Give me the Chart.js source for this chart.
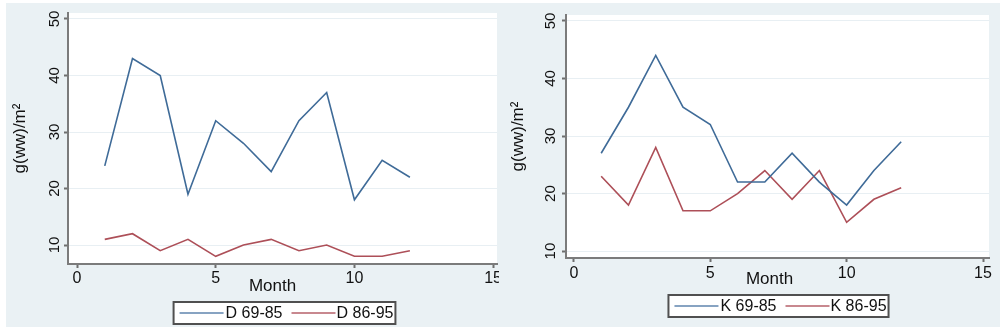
<!DOCTYPE html>
<html>
<head>
<meta charset="utf-8">
<script src="https://cdn.jsdelivr.net/npm/chart.js@4/dist/chart.umd.min.js"></script>
<style>
    body { margin: 0; background: #fff; width: 1000px; height: 329px; position: relative; overflow: hidden; }
    .panel { position: absolute; top: 3px; height: 324px; background: #eaf1f4; overflow: hidden; }
    #leftPanel { left: 6px; width: 493px; }
    #rightPanel { left: 499px; width: 501px; }
    canvas { position: absolute; top: 0; left: 0; }
</style>
</head>
<body>
<div class="panel" id="leftPanel"><canvas id="chartD" width="520" height="324"></canvas></div>
<div class="panel" id="rightPanel"><canvas id="chartK" width="501" height="324"></canvas></div>
<script>
// values
const months = [1, 2, 3, 4, 5, 6, 7, 8, 9, 10, 11, 12];
const d6985 = [24, 43, 40, 19, 32, 28, 23, 32, 37, 18, 25, 22];
const d8695 = [11, 12, 9, 11, 8, 10, 11, 9, 10, 8, 8, 9];
const k6985 = [27, 35, 44, 35, 32, 22, 22, 27, 22, 18, 24, 29];
const k8695 = [23, 18, 28, 17, 17, 20, 24, 19, 24, 15, 19, 21];
const dLabels = ['D 69-85', 'D 86-95'];
const kLabels = ['K 69-85', 'K 86-95'];
const xTickValues = [0, 5, 10, 15];
const yTickValues = [10, 20, 30, 40, 50];
const xTitle = 'Month';
const yTitle = 'g(ww)/m²';

const FONT = '"Liberation Sans", Arial, sans-serif';
const lineColors = ['#3f6b98', '#ad4f58'];
const legendColors = ['#87a3c2', '#c8888f'];

Chart.defaults.font.family = FONT;
Chart.defaults.color = '#111';

// white plot region, x title and the boxed legend underneath
const panelPlugin = {
    id: 'panel',
    beforeDraw(chart) {
        const { ctx, chartArea: a } = chart;
        ctx.save();
        ctx.fillStyle = '#fff';
        ctx.fillRect(a.left, a.top, a.right - a.left, a.bottom - a.top);
        ctx.restore();
    },
    afterDraw(chart, args, opts) {
        const { ctx, chartArea: a } = chart;
        const mid = (a.left + a.right) / 2;
        ctx.save();
        ctx.fillStyle = '#111';
        ctx.font = '17px ' + FONT;
        ctx.textAlign = 'center';
        ctx.textBaseline = 'middle';
        ctx.fillText(xTitle, mid + opts.titleShift, a.bottom + opts.titleGap);

        ctx.font = '16px ' + FONT;
        const names = chart.data.datasets.map(d => d.label);
        const widths = names.map(t => ctx.measureText(t).width);
        const boxW = 6 + 44 + 2 + widths[0] + 9 + 44 + 1 + widths[1] + 2;
        const h = 22;
        const left = mid + opts.legendShift - boxW / 2;
        const top = a.bottom + opts.legendGap;
        ctx.fillStyle = '#fff';
        ctx.fillRect(left, top, boxW, h);
        ctx.strokeStyle = '#505050';
        ctx.lineWidth = 2;
        ctx.strokeRect(left, top, boxW, h);

        let x = left + 6;
        const y = top + h / 2;
        ctx.textAlign = 'left';
        names.forEach((name, i) => {
            ctx.strokeStyle = legendColors[i];
            ctx.lineWidth = 2;
            ctx.beginPath();
            ctx.moveTo(x, y);
            ctx.lineTo(x + 44, y);
            ctx.stroke();
            x += 44 + (i === 0 ? 2 : 1);
            ctx.fillStyle = '#111';
            ctx.fillText(name, x, y + 1);
            x += widths[i] + 9;
        });
        ctx.restore();
    }
};

function toPoints(values) {
    return months.map((m, i) => ({ x: m, y: values[i] }));
}

function makeChart(canvasId, labels, series, cfg) {
    const ctx = document.getElementById(canvasId).getContext('2d');
    return new Chart(ctx, {
        type: 'line',
        data: {
            datasets: series.map((values, i) => ({
                label: labels[i],
                data: toPoints(values),
                borderColor: lineColors[i],
                borderWidth: 1.6,
                pointRadius: 0,
                tension: 0,
                fill: false
            }))
        },
        options: {
            responsive: false,
            animation: false,
            devicePixelRatio: 1,
            layout: { padding: { top: cfg.padTop, right: cfg.padRight, left: 0, bottom: 0 } },
            plugins: {
                legend: { display: false },
                tooltip: { enabled: false },
                panel: {
                    titleShift: cfg.titleShift,
                    titleGap: cfg.titleGap,
                    legendShift: cfg.legendShift,
                    legendGap: cfg.legendGap
                }
            },
            scales: {
                x: {
                    type: 'linear',
                    min: cfg.xMin,
                    max: cfg.xMax,
                    afterBuildTicks: s => { s.ticks = xTickValues.map(v => ({ value: v })); },
                    afterFit: s => { s.height = cfg.xHeight; },
                    grid: { drawOnChartArea: false, tickLength: 4, tickColor: '#6e6e6e', tickWidth: 2 },
                    border: { color: '#7b7b7b', width: 2 },
                    ticks: { font: { size: 16 }, padding: cfg.xTickPad, maxRotation: 0 }
                },
                y: {
                    type: 'linear',
                    min: cfg.yMin,
                    max: cfg.yMax,
                    afterBuildTicks: s => { s.ticks = yTickValues.map(v => ({ value: v })); },
                    afterFit: s => { s.width = cfg.yWidth; },
                    grid: { color: '#e8eff3', lineWidth: 1, tickLength: 4, tickColor: '#6e6e6e', tickWidth: 2 },
                    border: { color: '#7b7b7b', width: 2 },
                    ticks: { font: { size: 15 }, minRotation: 90, maxRotation: 90, crossAlign: 'center', padding: cfg.yTickPad },
                    title: { display: true, text: yTitle, font: { size: 17 }, padding: { top: cfg.titlePad, bottom: 0 } }
                }
            }
        },
        plugins: [panelPlugin]
    });
}

document.addEventListener('DOMContentLoaded', () => {
    makeChart('chartD', dLabels, [d6985, d8695], {
        yWidth: 62, xHeight: 63, padTop: 10, padRight: 29,
        yMin: 6.64, yMax: 51.06, xMin: -0.325, xMax: 15.14,
        yTickPad: 1, xTickPad: 1, titlePad: 4,
        titleShift: -10, titleGap: 22, legendShift: 2, legendGap: 38
    });
    makeChart('chartK', kLabels, [k6985, k8695], {
        yWidth: 67, xHeight: 69, padTop: 10, padRight: 11,
        yMin: 8.8, yMax: 51.03, xMin: -0.29, xMax: 15.22,
        yTickPad: 3, xTickPad: 2, titlePad: 9,
        titleShift: -8, titleGap: 21, legendShift: 1, legendGap: 37
    });
});
</script>
</body>
</html>
